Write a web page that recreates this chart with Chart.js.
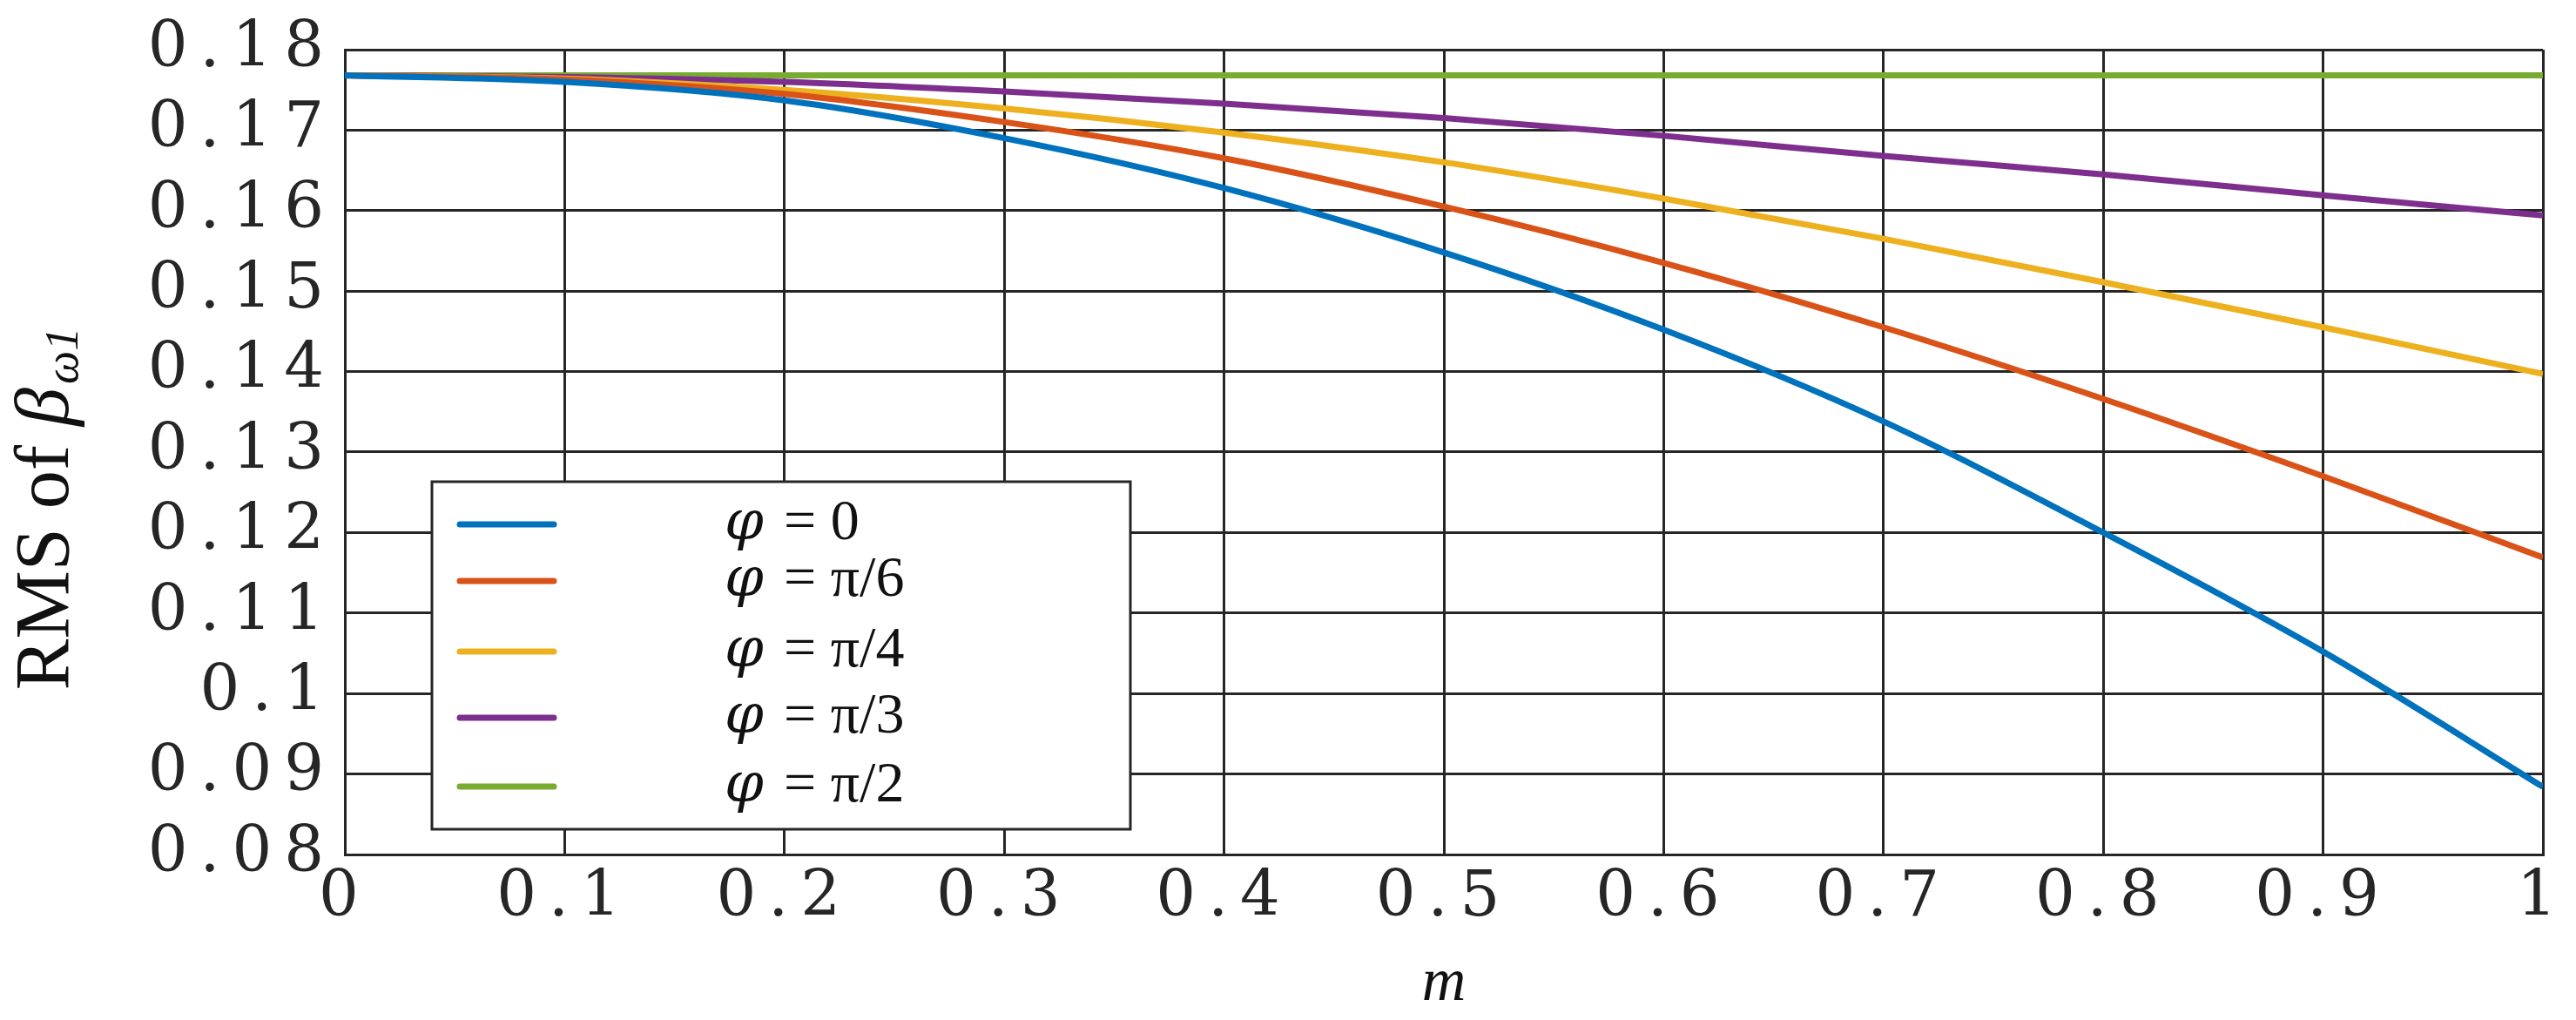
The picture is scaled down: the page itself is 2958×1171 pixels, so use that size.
<!DOCTYPE html>
<html><head><meta charset="utf-8">
<script src="https://cdn.jsdelivr.net/npm/chart.js@4/dist/chart.umd.min.js"></script>
<style>html,body{margin:0;padding:0;background:#fff}#wrap{width:2958px;height:1171px;position:relative}</style>
</head><body><div id="wrap"><canvas id="c" width="2958" height="1171"></canvas></div>
<script>
const mValues = [0,0.1,0.2,0.3,0.4,0.5,0.6,0.7,0.8,0.9,1.0];
const phi0   = [0.1768,0.1760,0.1737,0.1690,0.1628,0.1548,0.1452,0.1338,0.1200,0.1052,0.0884];
const phiPi6 = [0.1768,0.1763,0.1745,0.1710,0.1665,0.1605,0.1535,0.1455,0.1366,0.1270,0.1169];
const phiPi4 = [0.1768,0.1764,0.1750,0.1727,0.1697,0.1660,0.1615,0.1565,0.1511,0.1455,0.1397];
const phiPi3 = [0.1768,0.1766,0.1760,0.1748,0.1733,0.1715,0.1693,0.1668,0.1645,0.1619,0.1594];
const phiPi2 = [0.1768,0.1768,0.1768,0.1768,0.1768,0.1768,0.1768,0.1768,0.1768,0.1768,0.1768];
const seriesLabels = ['0','π/6','π/4','π/3','π/2'];
const seriesColors = ['#0072BD','#D95319','#EDB120','#7E2F8E','#77AC30'];
const seriesData = [phi0,phiPi6,phiPi4,phiPi3,phiPi2];

const datasets = seriesData.map((d,i)=>({
  label:'φ = '+seriesLabels[i],
  data:d.map((v,j)=>({x:mValues[j],y:v})),
  borderColor:seriesColors[i],borderWidth:7,pointRadius:0,tension:0.4,cubicInterpolationMode:'monotone',fill:false
}));

const legendPlugin={id:'lg',afterDatasetsDraw(ch){
  const ctx=ch.ctx;ctx.save();ctx.letterSpacing='0px';
  const x0=496,y0=553,w=802,h=399;
  ctx.fillStyle='#fff';ctx.fillRect(x0,y0,w,h);
  ctx.strokeStyle='#262626';ctx.lineWidth=3;ctx.strokeRect(x0,y0,w,h);
  const ys=[602,667,748,824,903];
  ch.data.datasets.forEach((ds,i)=>{
    ctx.strokeStyle=ds.borderColor;ctx.lineWidth=7;ctx.lineCap='round';
    ctx.beginPath();ctx.moveTo(528,ys[i]);ctx.lineTo(636,ys[i]);ctx.stroke();
    ctx.fillStyle='#111';ctx.textBaseline='middle';ctx.textAlign='left';
    ctx.font='italic 64px "DejaVu Serif"';ctx.fillText('φ',832,ys[i]);
    ctx.font='66px "Liberation Serif"';ctx.fillText('= '+seriesLabels[i],900,ys[i]);
  });
  ctx.restore();
},
beforeDraw(ch){ch.ctx.letterSpacing='14px';}};

const titlesPlugin={id:'tt',afterDraw(ch){
  const ctx=ch.ctx;ctx.save();ctx.letterSpacing='0px';ctx.fillStyle='#111';
  ctx.font='italic 70px "Liberation Serif"';ctx.textAlign='center';ctx.textBaseline='middle';
  ctx.fillText('m',(ch.chartArea.left+ch.chartArea.right)/2,1130);
  ctx.translate(55,(ch.chartArea.top+ch.chartArea.bottom)/2);ctx.rotate(-Math.PI/2);
  ctx.font='88px "Liberation Serif"';ctx.textAlign='right';ctx.fillText('RMS of ',30,0);
  ctx.font='italic 88px "Liberation Serif"';ctx.textAlign='left';ctx.fillText('β',30,0);
  ctx.font='italic 54px "Liberation Serif"';ctx.fillText('ω1',78,20);
  ctx.restore();
}};

const fmt=v=>String(Number(v.toFixed(2)));
new Chart(document.getElementById('c'),{
  type:'line',data:{datasets},
  options:{responsive:false,animation:false,
    layout:{padding:{top:57,right:38,bottom:0,left:0}},
    plugins:{legend:{display:false},tooltip:{enabled:false}},
    scales:{
      x:{type:'linear',min:0,max:1,ticks:{stepSize:0.1,callback:fmt,color:'#262626',font:{family:'DejaVu Serif',size:72},padding:8,maxRotation:0},
         grid:{color:'#262626',lineWidth:3,drawTicks:false},border:{color:'#262626',width:3},
         afterFit(s){s.height=190;}},
      y:{min:0.08,max:0.18,ticks:{stepSize:0.01,callback:fmt,color:'#262626',font:{family:'DejaVu Serif',size:72},padding:10},
         grid:{color:'#262626',lineWidth:3,drawTicks:false},border:{color:'#262626',width:3},
         afterFit(s){s.width=396;}}
    }},
  plugins:[legendPlugin,titlesPlugin]
});
</script></body></html>
